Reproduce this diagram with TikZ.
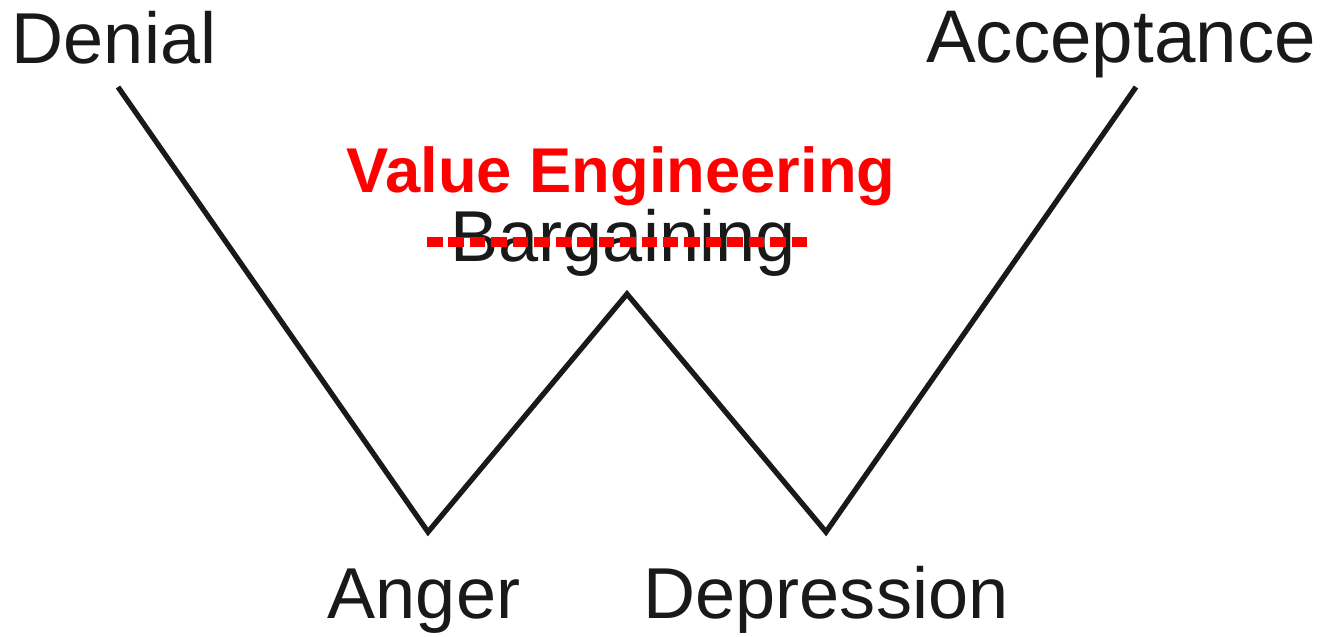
\documentclass[tikz,border=0pt]{standalone}
\usepackage{fontspec}
\setmainfont{Liberation Sans}
\usepackage{xcolor}
\usepackage{tikz}
\usetikzlibrary{calc, positioning}

\definecolor{inkgray}{RGB}{25,25,25}
\definecolor{vered}{RGB}{255,0,0}

\tikzset{
    stage/.style={anchor=base, inner sep=0pt, text=inkgray,
        font=\fontsize{20.5}{24}\selectfont},
    newstage/.style={anchor=base, inner sep=0pt, text=vered,
        font=\fontsize{18}{22}\selectfont\bfseries},
    curve/.style={line width=1.5pt, draw=inkgray},
    strike/.style={line width=2.6pt, draw=vered, dash pattern=on 0.155cm off 0.0594cm}
}

\begin{document}
\begin{tikzpicture}[x=0.01cm, y=-0.01cm]

    % khung (pixel của ảnh gốc)
    \useasboundingbox (0,0) rectangle (1327,637);

    % =================================================================
    % CÁC NHÃN GIAI ĐOẠN
    % =================================================================
    \node[stage] (denial) at (114,64) {Denial};
    \node[stage, font=\fontsize{21.2}{24}\selectfont] (acceptance) at (1121,63) {Acceptance};
    \node[stage] (bargaining) at (623,262) {Bargaining};
    \node[stage] (anger) at (424,618) {Anger};
    \node[stage] (depression) at (826,619) {Depression};

    % Nhãn thay thế màu đỏ
    \node[newstage] (value) at (621,193) {Value Engineering};

    % =================================================================
    % ĐƯỜNG CHỮ W
    % =================================================================
    \coordinate (wstart) at (118,87);
    \coordinate (wlow1) at (428,532);
    \coordinate (wpeak) at (627,294);
    \coordinate (wlow2) at (826,532);
    \coordinate (wend) at (1136,87);

    \draw[curve] (wstart) -- (wlow1) -- (wpeak) -- (wlow2) -- (wend);

    % Gạch ngang chữ Bargaining
    \coordinate (sleft) at (427,242);
    \coordinate (sright) at (807,242);
    \draw[strike] (sleft) -- (sright);

\end{tikzpicture}
\end{document}
